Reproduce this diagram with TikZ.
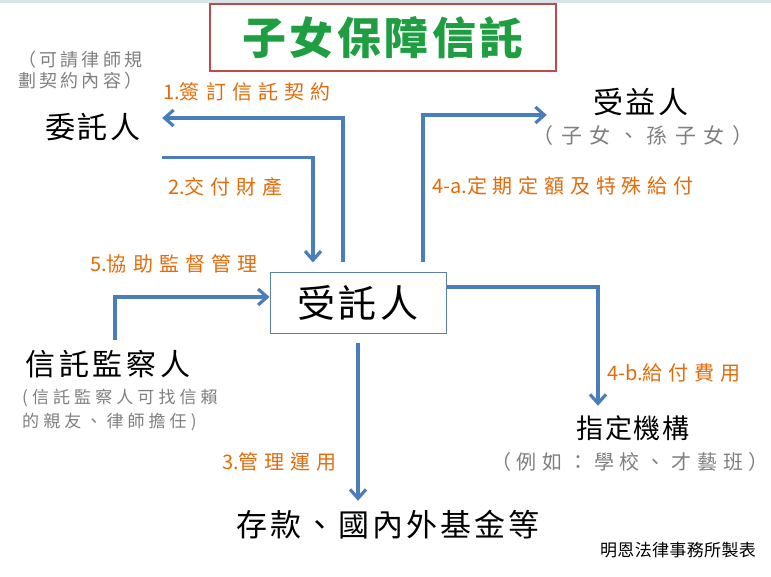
\documentclass[tikz,border=0pt]{standalone}
\usepackage{fontspec}
\setmainfont{Noto Sans CJK TC}
\usetikzlibrary{positioning, arrows.meta}
\definecolor{arrowblue}{HTML}{4A7EBB}
\definecolor{boxblue}{HTML}{5A7FA8}
\definecolor{steporange}{HTML}{E26B0A}
\definecolor{titlegreen}{HTML}{1E9E40}
\definecolor{titlered}{HTML}{BE4B48}
\definecolor{notegray}{HTML}{7F7F7F}
\definecolor{stripgray}{HTML}{D8E3E8}
\newcommand{\lsfont}[3]{\fontsize{#1}{#2}\selectfont\addfontfeature{LetterSpace=#3}}
\newcommand{\stepno}[1]{{\addfontfeature{LetterSpace=0}#1}}

\begin{document}
\begin{tikzpicture}[
  x=1pt, y=1pt,
  every node/.style={inner sep=0pt},
  party/.style={font=\lsfont{30}{34}{8}, text=black},
  note/.style={font=\lsfont{18}{21}{18}, text=notegray, align=left},
  widenote/.style={font=\lsfont{21}{24}{36}, text=notegray},
  steplabel/.style={font=\lsfont{20}{22}{31}, text=steporange, anchor=west},
  arr/.style={-{Straight Barb[length=9pt,width=16pt]}, line width=3.2pt, arrowblue},
]
\useasboundingbox (0,0) rectangle (771,-577);
\fill[stripgray] (0,0) rectangle (771,-3);

% === TITLE ===
\node[draw=titlered, line width=1.6pt, minimum width=346, minimum height=67,
  font=\lsfont{44}{48}{8}\bfseries, text=titlegreen] (title) at (383,-37.5) {子女保障信託};

% === PARTIES ===
\node[party, minimum width=138, minimum height=60] (trustor) at (93,-127) {委託人};
\node[note, anchor=west] (trustornote) at (18,-70) {（可請律師規\\劃契約內容）};

\node[draw=boxblue, line width=1pt, minimum width=176, minimum height=60,
  font=\lsfont{38}{40}{8}] (trustee) at (358,-303) {受託人};

\node[party, font=\lsfont{30}{34}{12}, minimum height=48] (protector) at (108,-364) {信託監察人};
\node[note, font=\lsfont{17}{24}{24}, anchor=west] (protectornote) at (22,-410)
  {(信託監察人可找信賴\\的親友、律師擔任)};

\node[party, font=\lsfont{30}{34}{7}, minimum width=188, minimum height=30] (bene) at (641,-102) {受益人};
\node[widenote] (benenote) at (643,-136) {（子女、孫子女）};

\node[party, font=\lsfont{27}{30}{6}, minimum height=44] (agency) at (633,-428) {指定機構};
\node[widenote, font=\lsfont{20}{24}{29}] (agencynote) at (630,-462) {（例如：學校、才藝班）};

\node[party, font=\lsfont{31}{34}{10}, minimum height=66] (assets) at (388,-525) {存款、國內外基金等};

\node[font=\lsfont{17}{20}{2}] (maker) at (678,-550) {明恩法律事務所製表};

% === STEP LABELS ===
\node[steplabel] (step1) at (163,-92) {\stepno{1.}簽訂信託契約};
\node[steplabel, font=\lsfont{20}{22}{30}] (step2) at (168,-187) {\stepno{2.}交付財產};
\node[steplabel] (step5) at (90,-264) {\stepno{5.}協助監督管理};
\node[steplabel, font=\lsfont{20}{22}{29}] (step4a) at (432,-186) {\stepno{4-a.}定期定額及特殊給付};
\node[steplabel, font=\lsfont{20}{22}{30}] (step4b) at (607,-373) {\stepno{4-b.}給付費用};
\node[steplabel, font=\lsfont{20}{22}{30}] (step3) at (222,-462) {\stepno{3.}管理運用};

% === CONNECTORS ===
\draw[arr] ([xshift=-15pt, yshift=10pt]trustee.north) |- ([yshift=9pt]trustor.east);
\draw[arr] (trustor.south east) -| ([xshift=-45pt, yshift=10pt]trustee.north);
\draw[arr] ([xshift=7pt]protector.north) |- ([yshift=6pt]trustee.west);
\draw[arr] ([xshift=65pt, yshift=10pt]trustee.north) |- ([yshift=-13pt]bene.west);
\draw[arr] ([yshift=16pt]trustee.east) -| ([xshift=-35pt]agency.north);
\draw[arr] ([yshift=-9pt]trustee.south) -- ([yshift=-9pt]trustee.south |- assets.north);

\end{tikzpicture}
\end{document}
